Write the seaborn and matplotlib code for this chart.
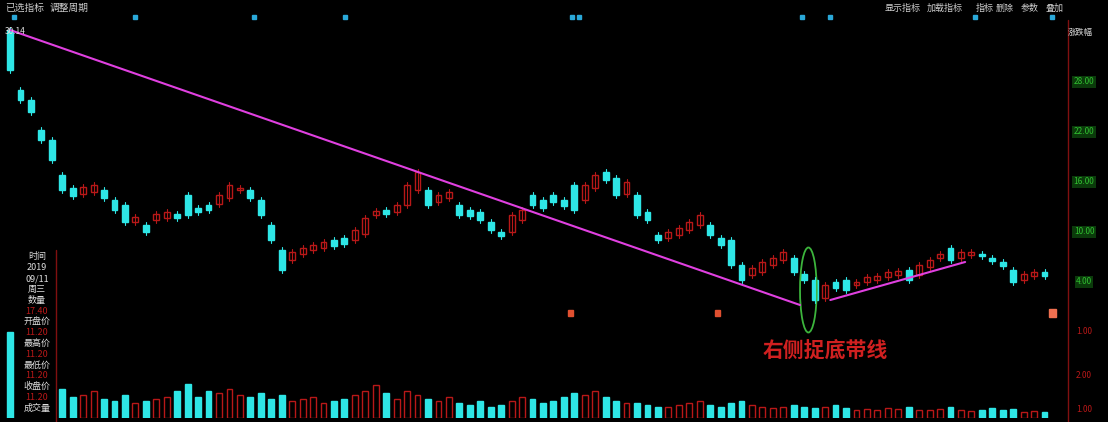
import matplotlib
matplotlib.use("Agg")
import matplotlib.pyplot as plt
import seaborn as sns
from matplotlib.patches import Rectangle, Ellipse

sns.set_style("dark")
plt.rcParams['font.family'] = ['Noto Sans CJK SC', 'DejaVu Sans']

opens = [30.0,24.0,23.0,20.0,19.0,15.5,14.2,13.6,13.8,14.0,13.0,12.5,10.8,10.5,11.0,11.2,11.6,13.5,12.2,12.5,
         12.6,13.2,14.0,14.0,13.0,10.5,8.0,7.0,7.6,8.0,8.2,9.0,9.2,9.0,9.6,11.5,12.0,11.8,12.5,14.0,
         14.0,12.8,13.2,12.5,12.0,11.8,10.8,9.8,9.8,11.0,13.5,13.0,13.5,13.0,14.5,13.0,14.2,15.8,15.2,13.6,
         13.5,11.8,9.5,9.2,9.5,10.0,10.5,10.5,9.2,9.0,6.5,5.5,5.8,6.5,7.0,7.2,5.6,5.0,3.2,4.8,
         5.0,4.5,4.8,5.0,5.3,5.5,6.0,5.5,6.3,7.2,8.2,7.2,7.5,7.6,7.2,6.8,6.0,5.0,5.4,5.8]
closes = [26.0,23.0,21.8,19.0,17.0,14.0,13.4,14.3,14.5,13.2,12.0,10.8,11.3,9.8,11.6,11.8,11.2,11.5,11.8,12.0,
          13.5,14.5,14.2,13.2,11.5,9.0,6.0,7.8,8.2,8.5,8.8,8.4,8.6,10.0,11.2,11.9,11.6,12.5,14.5,15.8,
          12.5,13.5,13.8,11.5,11.4,11.0,10.0,9.4,11.5,12.0,12.5,12.2,12.8,12.4,12.0,14.5,15.5,15.0,13.5,14.8,
          11.5,11.0,9.0,9.8,10.2,10.8,11.5,9.5,8.5,6.5,5.0,6.2,6.8,7.2,7.8,5.8,5.0,3.0,4.5,4.2,
          4.0,4.8,5.3,5.4,5.8,5.9,5.0,6.5,7.0,7.6,7.0,7.8,7.8,7.4,6.9,6.4,4.8,5.6,5.8,5.4]
volumes = [9.0,2.8,2.2,2.6,2.4,3.0,2.2,2.4,2.8,2.0,1.8,2.4,1.6,1.8,2.0,2.2,2.8,3.6,2.2,2.8,
           2.6,3.0,2.4,2.2,2.6,2.0,2.4,1.8,2.0,2.2,1.6,1.8,2.0,2.4,2.8,3.4,2.6,2.0,2.8,2.4,
           2.0,1.8,2.2,1.6,1.4,1.8,1.2,1.4,1.8,2.2,2.0,1.6,1.8,2.2,2.6,2.4,2.8,2.2,1.8,1.6,
           1.6,1.4,1.2,1.2,1.4,1.6,1.8,1.4,1.2,1.6,1.8,1.4,1.2,1.0,1.2,1.4,1.2,1.0,1.2,1.4,
           1.0,0.8,0.9,0.8,1.0,0.9,1.2,0.8,0.8,0.9,1.2,0.8,0.7,0.8,1.0,0.8,0.9,0.6,0.7,0.6]
trend1_x = [0, 75.6]; trend1_y = [30.0, 2.5]
trend2_x = [78.5, 91.4]; trend2_y = [3.0, 6.8]
panel_labels = ["时间", "2019", "09/11", "周三", "数量", "17.40", "开盘价", "11.20", "最高价", "11.20",
                "最低价", "11.20", "收盘价", "11.20", "成交量"]
right_labels = ["28.00", "22.00", "16.00", "10.00", "4.00"]
annotation = "右侧捉底带线"

W, H = 1108, 422
fig = plt.figure(figsize=(W/100, H/100), dpi=100, facecolor="black")
def rect(top, bottom):
    return [0, (H-bottom)/H, 1, (bottom-top)/H]
ax = fig.add_axes(rect(20, 320))
axv = fig.add_axes(rect(330, 418))
for a in (ax, axv):
    a.set_facecolor("none"); a.set_xticks([]); a.set_yticks([])
    for s in a.spines.values(): s.set_visible(False)
    a.set_xlim(-10/10.45, (W-10)/10.45)
ax.set_ylim(1, 31)
axv.set_ylim(0, 9.2)

cy, rd = "#2ee6e6", "#b81818"
for i, (o, c) in enumerate(zip(opens, closes)):
    up = c > o
    lo, hi = min(o, c), max(o, c)
    col = rd if up else cy
    ax.plot([i, i], [lo-0.3, hi+0.3], color=col, lw=0.8)
    ax.add_patch(Rectangle((i-0.28, lo), 0.56, max(hi-lo, 0.25), facecolor="black" if up else cy,
                           edgecolor=col, lw=1))
    axv.add_patch(Rectangle((i-0.28, 0), 0.56, volumes[i], facecolor="black" if up else cy, edgecolor=col, lw=1))

sns.lineplot(x=trend1_x, y=trend1_y, ax=ax, color="#e040e0", lw=1.5)
sns.lineplot(x=trend2_x, y=trend2_y, ax=ax, color="#e040e0", lw=1.5)
ax.add_patch(Ellipse((76.4, 4.0), 1.6, 8.5, fill=False, edgecolor="#3cb43c", lw=1.3, clip_on=False))
fig.text(825/W, 1-350/H, annotation, color="#d02020", fontsize=15, ha="center", va="center", fontweight="bold")

# left panel
fig.add_artist(Rectangle((15/W, 0), 41/W, 1-250/H, facecolor="black", edgecolor="none",
                         transform=fig.transFigure, zorder=1))
fig.add_artist(plt.Line2D([56/W, 56/W], [0, 1-250/H], color="#801010", lw=1, zorder=2))
for k, t in enumerate(panel_labels):
    y = 257 + k*10.8
    fig.text(37/W, 1-y/H, t, color=rd if (k >= 5 and k % 2 == 1) else "#dddddd", fontsize=6.5,
             ha="center", va="center", zorder=3)

# right axis
fig.add_artist(plt.Line2D([1068/W, 1068/W], [0, 1-20/H], color="#801010", lw=1))
for k, t in enumerate(right_labels):
    y = 82 + k*50
    fig.text(1084/W, 1-y/H, t, color="#30c030", fontsize=6, ha="center", va="center",
             bbox=dict(facecolor="#0b3b0b", edgecolor="none", pad=1))
for y, t in [(332, "1.00"), (375, "2.00"), (410, "1.00")]:
    fig.text(1084/W, 1-y/H, t, color=rd, fontsize=6, ha="center", va="center")

# top bar
fig.text(5/W, 1-8/H, "已选指标", color="#cccccc", fontsize=7, va="center")
fig.text(50/W, 1-8/H, "调整周期", color="#cccccc", fontsize=7, va="center")
for x, t in [(903, "显示指标"), (945, "加载指标"), (985, "指标"), (1005, "删除"), (1030, "参数"), (1055, "叠加")]:
    fig.text(x/W, 1-8/H, t, color="#cccccc", fontsize=6.5, ha="center", va="center")
for x in [12, 133, 252, 343, 570, 577, 800, 828, 973, 1050]:
    fig.add_artist(Rectangle((x/W, 1-19/H), 4/W, 4/H, color="#2aa8d8", transform=fig.transFigure))
fig.text(5/W, 1-32/H, "30.14", color="#dddddd", fontsize=6, va="center")
fig.text(1080/W, 1-32/H, "涨跌幅", color="#dddddd", fontsize=6, ha="center", va="center")
for x in [568, 715]:
    fig.add_artist(Rectangle((x/W, 1-316/H), 5/W, 6/H, color="#e05030", transform=fig.transFigure))
fig.add_artist(Rectangle((1049/W, 1-317/H), 7/W, 8/H, color="#f07050", transform=fig.transFigure))
fig.savefig("out.png", dpi=100, facecolor="black")
